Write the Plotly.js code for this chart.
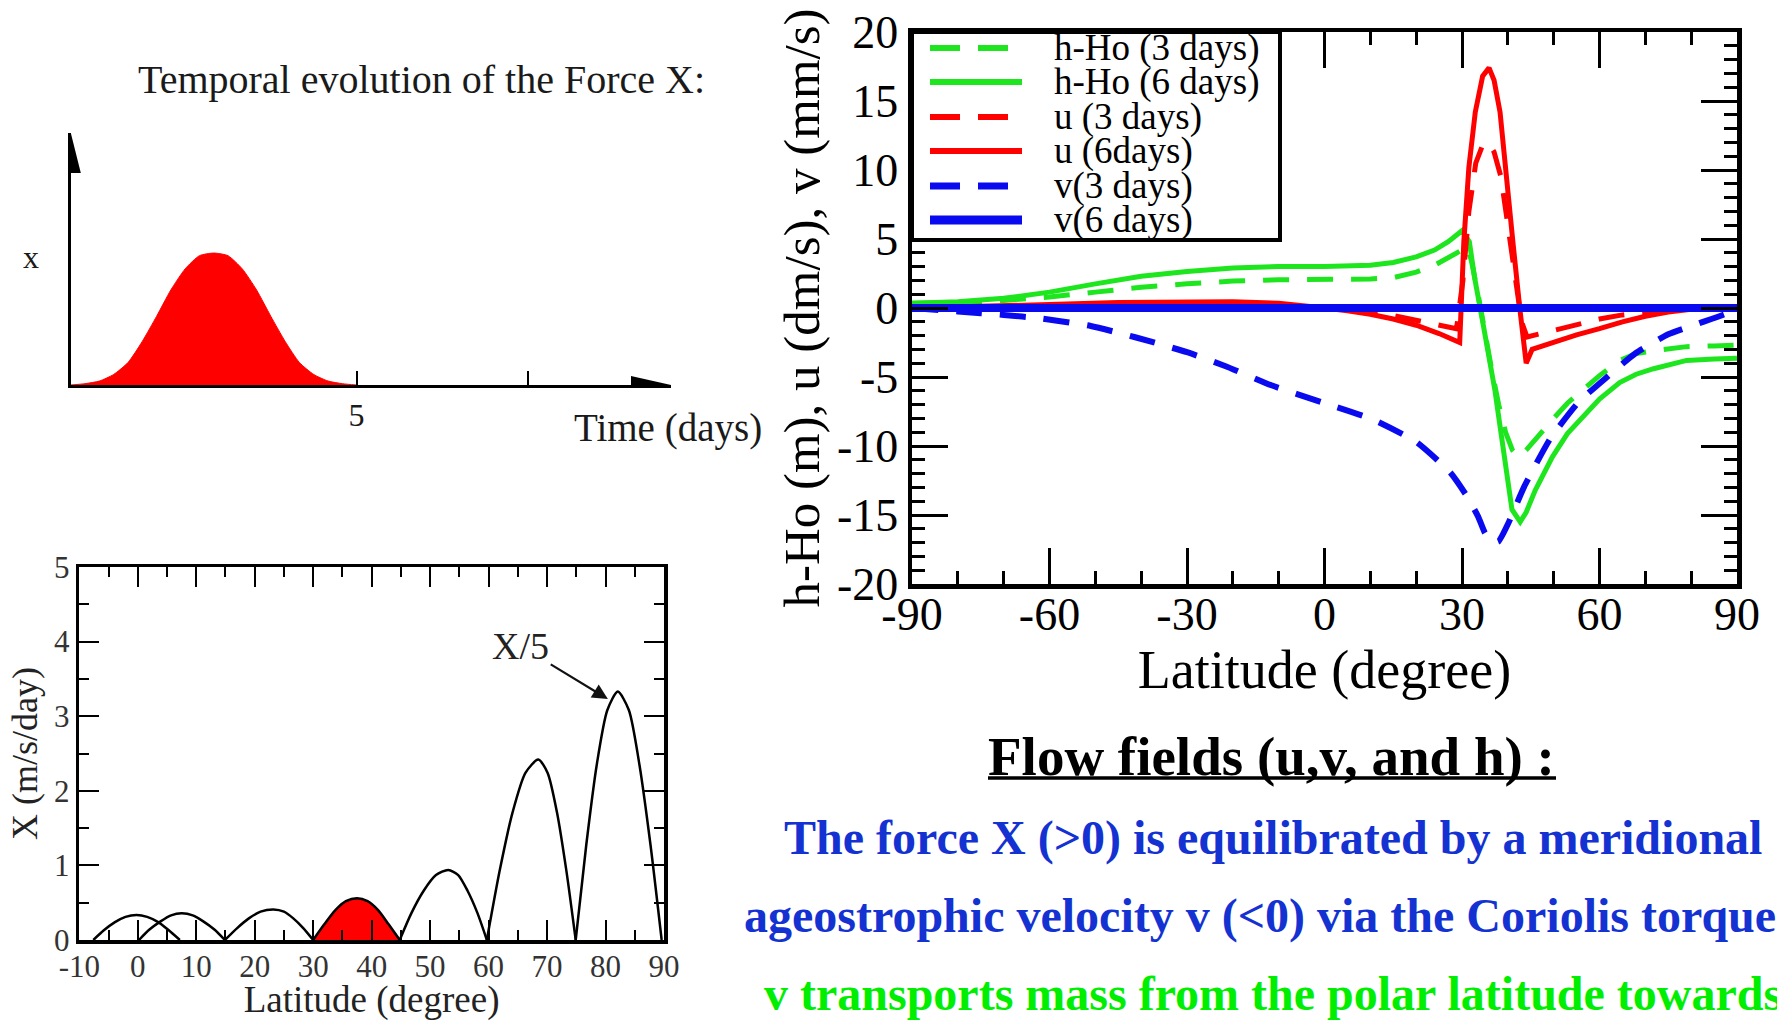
<!DOCTYPE html>
<html>
<head>
<meta charset="utf-8">
<script src="https://cdn.plot.ly/plotly-3.0.1.min.js"></script>
<style>
html,body{margin:0;padding:0;background:#fff;}
#chart{width:1777px;height:1021px;}
</style>
</head>
<body>
<div id="chart"></div>
<script>
// ---------- Panel A : temporal evolution of the force X ----------
const timeDays  = [0,0.25,0.5,0.75,1,1.25,1.5,1.75,2,2.25,2.5,2.75,3,3.25,3.5,3.75,4,4.25,4.5,4.75,5];
const forceTime = [0,0.01,0.03,0.08,0.17,0.33,0.52,0.72,0.88,0.98,1.0,0.98,0.88,0.72,0.52,0.33,0.17,0.08,0.03,0.01,0];
const timeTickVals = [5, 8];
const timeTickText = ['5', ''];

// ---------- Panel B : latitudinal profile of X (m/s/day) ----------
const humpA_lat = [-7.6,-5.8,-3.9,-2.1,-0.2,1.6,3.5,5.3,7.2];
const humpA_X   = [0,0.13,0.24,0.31,0.335,0.31,0.24,0.13,0];
const humpB_lat = [0.2,2.0,3.9,5.7,7.5,9.4,11.2,13.1,14.9];
const humpB_X   = [0,0.14,0.25,0.33,0.357,0.33,0.25,0.14,0];
const humpC_lat = [14.9,17,19,21,23.2,25,26.6,28.3,30.0];
const humpC_X   = [0,0.16,0.29,0.38,0.41,0.38,0.29,0.16,0];
const humpD_lat = [30,31.9,33.8,35.6,37.5,39.3,41.1,42.9,44.8];
const humpD_X   = [0,0.21,0.40,0.52,0.56,0.52,0.40,0.21,0];
const humpE_lat = [44.8,46.8,48.9,51,53.1,54.8,56.4,58.1,59.7];
const humpE_X   = [0,0.36,0.66,0.87,0.94,0.87,0.66,0.36,0];
const humpF_lat = [59.7,61.9,64.1,66.3,68.5,70.1,71.7,73.3,74.9];
const humpF_X   = [0,0.93,1.71,2.24,2.42,2.24,1.71,0.93,0];
const humpG_lat = [74.9,76.7,78.5,80.3,82.1,84.0,85.8,87.7,89.6];
const humpG_X   = [0,1.27,2.35,3.08,3.33,3.08,2.35,1.27,0];
const latTicksB = [-10,0,10,20,30,40,50,60,70,80,90];
const xTicksB   = [0,1,2,3,4,5];
const arrowTipB  = {lat: 80.4, X: 3.23};
const arrowTextB = {lat: 65.5, X: 3.94, text: 'X/5'};

// ---------- Panel C : flow fields ----------
const h3_lat = [-90,-80,-70,-60,-50,-40,-30,-20,-10,0,10,15,20,24,27.6,30,31,32,33.5,35,36.5,38,39.5,41,42.4,44,46,49.7,53,57,60,64.4,68,71.8,79,85,90];
const h3_val = [0.35,0.4,0.55,0.8,1.15,1.5,1.75,1.95,2.05,2.05,2.1,2.2,2.6,3.1,3.7,4.2,4.5,3.5,1.0,-2.0,-4.5,-7.0,-9.0,-10.3,-10.8,-10.3,-9.5,-8.1,-6.9,-5.7,-4.9,-3.8,-3.3,-3.1,-2.8,-2.75,-2.7];
const h6_lat = [-90,-80,-70,-60,-50,-40,-30,-20,-10,0,10,15,20,24,27,29,30,31.6,32.8,34.3,35.7,37.2,38.7,39.8,40.9,42.7,44,46,49.7,53,57,60,64.4,68,71.8,75,79,85,90];
const h6_val = [0.35,0.45,0.7,1.15,1.75,2.3,2.65,2.9,3.0,3.0,3.1,3.3,3.7,4.2,4.8,5.3,5.6,4.8,2.1,-0.6,-3.3,-6.0,-9.5,-12.2,-14.6,-15.5,-14.8,-13.2,-10.8,-9.1,-7.6,-6.6,-5.4,-4.8,-4.4,-4.1,-3.8,-3.7,-3.65];
const u3_lat = [-90,-75,-60,-45,-30,-20,-10,-5,0,5,10,15,20,25,27,28.8,30.2,31.5,33,34.5,35.7,37,38.5,40,41.5,43,44.2,46,50,55,60,65,70,75,80,90];
const u3_val = [0,0.05,0.15,0.25,0.3,0.3,0.25,0.12,0,-0.12,-0.3,-0.55,-0.9,-1.25,-1.4,-1.5,2.0,7.0,10.5,11.8,12.0,11.3,9.5,6.0,2.0,-1.0,-2.1,-1.95,-1.65,-1.2,-0.8,-0.5,-0.3,-0.15,-0.05,0];
const u6_lat = [-90,-75,-60,-45,-30,-20,-10,-5,0,5,10,15,20,25,28,29.5,30.4,31.5,32.9,34.5,35.9,37,38.3,39.4,41.1,42.6,44,45.3,47,50,55,60,65,70,75,80,85,90];
const u6_val = [0,0.1,0.25,0.4,0.45,0.45,0.35,0.2,0,-0.2,-0.45,-0.8,-1.25,-1.85,-2.25,-2.5,4.8,10.2,14.2,16.8,17.4,16.5,14.2,10.2,4.8,0,-4.0,-3.0,-2.8,-2.45,-1.95,-1.5,-1.0,-0.6,-0.3,-0.1,-0.03,0];
const v3_lat = [-90,-80,-70,-62,-51,-41.5,-30,-21.7,-11.6,0,10.7,20,27.4,31,33.5,35,36.5,38,40.1,43.5,49.2,55.5,62,67.8,75,81.8,88.5,90];
const v3_val = [0,-0.25,-0.5,-0.75,-1.3,-2.1,-3.2,-4.2,-5.6,-6.9,-8.1,-9.7,-11.9,-13.6,-15.1,-16.3,-17.0,-16.9,-15.6,-13.0,-9.5,-6.8,-4.9,-3.3,-1.9,-1.1,-0.3,0];
const v6_lat = [-90,-60,-30,0,30,60,90];
const v6_val = [0,0,0,0,0,0,0];
const seriesNames = ['h-Ho (3 days)','h-Ho (6 days)','u (3 days)','u (6days)','v(3 days)','v(6 days)'];
const latTicksC = [-90,-60,-30,0,30,60,90];
const valTicksC = [-20,-15,-10,-5,0,5,10,15,20];

// ---------- Text block ----------
const textTitle = 'Flow fields (u,v, and h) :';
const textLines = [
  'The force X (>0) is equilibrated by a meridional',
  'ageostrophic velocity v (<0) via the Coriolis torque',
  'v transports mass from the polar latitude towards'
];

// ================= layout helpers =================
const W = 1777, H = 1021;
const px = v => v / W;
const py = v => 1 - v / H;
const SERIF = '"Liberation Serif", "Times New Roman", Times, serif';
const GREEN = '#1ee61e', RED = '#ff0000', BLUE = '#0a0af0';
const DASH = '26px,18px';

const traces = [];
// Panel A
traces.push({x: timeDays, y: forceTime, xaxis: 'x', yaxis: 'y', type: 'scatter', mode: 'lines',
  line: {color: RED, width: 1, shape: 'spline', smoothing: 0.6}, fill: 'tozeroy', fillcolor: RED, showlegend: false});
// Panel B
const humps = [[humpA_lat, humpA_X], [humpB_lat, humpB_X], [humpC_lat, humpC_X], [humpD_lat, humpD_X],
               [humpE_lat, humpE_X], [humpF_lat, humpF_X], [humpG_lat, humpG_X]];
humps.forEach((h, i) => {
  const t = {x: h[0], y: h[1], xaxis: 'x2', yaxis: 'y2', type: 'scatter', mode: 'lines',
    line: {color: '#000', width: 2.5, shape: 'spline', smoothing: 0.7}, showlegend: false};
  if (i === 3) { t.fill = 'tozeroy'; t.fillcolor = RED; }
  traces.push(t);
});
// Panel C
const panelC = [
  [h3_lat, h3_val, GREEN, DASH, 5, 'linear'],
  [h6_lat, h6_val, GREEN, 'solid', 5, 'linear'],
  [u3_lat, u3_val, RED, DASH, 5, 'linear'],
  [u6_lat, u6_val, RED, 'solid', 5, 'linear'],
  [v3_lat, v3_val, BLUE, DASH, 6, 'spline'],
  [v6_lat, v6_val, BLUE, 'solid', 8, 'linear']
];
panelC.forEach((s, i) => {
  traces.push({x: s[0], y: s[1], xaxis: 'x3', yaxis: 'y3', type: 'scatter', mode: 'lines', name: seriesNames[i],
    line: {color: s[2], dash: s[3], width: s[4], shape: s[5], smoothing: 0.5}, showlegend: false});
});

const shapes = [];
const annotations = [];
const txt = (x, y, text, size, color, extra) => Object.assign({xref: 'paper', yref: 'paper', x: px(x), y: py(y),
  xanchor: 'center', yanchor: 'middle', text: text, showarrow: false,
  font: {family: SERIF, size: size, color: color}}, extra || {});

// Panel A decorations: arrow heads
shapes.push({type: 'path', xref: 'x', yref: 'y', xsizemode: 'pixel', ysizemode: 'pixel', xanchor: 10.5, yanchor: 0,
  path: 'M0,0 L-40,9 L-40,-9 Z', fillcolor: '#000', line: {width: 0}});
shapes.push({type: 'path', xref: 'x', yref: 'y', xsizemode: 'pixel', ysizemode: 'pixel', xanchor: 0, yanchor: 1.91,
  path: 'M0,0 L-10,-40 L10,-40 Z', fillcolor: '#000', line: {width: 0}});
annotations.push(txt(421, 80, 'Temporal evolution of the Force X:', 40, '#1a1a1a'));
annotations.push(txt(31, 257, 'x', 32, '#1a1a1a'));
annotations.push(txt(668, 428, 'Time (days)', 39, '#1a1a1a'));

// Panel B annotation
annotations.push({xref: 'x2', yref: 'y2', x: arrowTipB.lat, y: arrowTipB.X, axref: 'x2', ayref: 'y2',
  ax: arrowTextB.lat, ay: arrowTextB.X, text: arrowTextB.text, showarrow: true, arrowhead: 2, arrowsize: 1.4,
  arrowwidth: 2.2, arrowcolor: '#111', font: {family: SERIF, size: 38, color: '#222'}});

// Panel C legend (manual box)
const legTop = 32, legBottom = 240, legLeft = 912, legRight = 1280;
shapes.push({type: 'rect', xref: 'paper', yref: 'paper', x0: px(legLeft), x1: px(legRight), y0: py(legBottom), y1: py(legTop),
  line: {color: '#000', width: 4}, fillcolor: '#fff', layer: 'above'});
const legRows = [48, 82, 117, 151, 186, 220];
panelC.forEach((s, i) => {
  shapes.push({type: 'line', xref: 'paper', yref: 'paper', x0: px(930), x1: px(1022), y0: py(legRows[i]), y1: py(legRows[i]),
    line: {color: s[2], dash: s[3] === 'solid' ? 'solid' : '30px,18px', width: s[4] + 1}, layer: 'above'});
  annotations.push(txt(1052, legRows[i], seriesNames[i], 37, '#000', {xanchor: 'left'}));
});

// Text block
annotations.push(txt(1271, 756, '<b>' + textTitle + '</b>', 55, '#000'));
shapes.push({type: 'line', xref: 'paper', yref: 'paper', x0: px(988), x1: px(1556), y0: py(778), y1: py(778),
  line: {color: '#000', width: 3.5}});
const lineLeft = [782, 742, 762], lineY = [838, 916, 993], lineColor = ['#1432d2', '#1432d2', '#00ee00'];
textLines.forEach((t, i) => {
  annotations.push(txt(lineLeft[i], lineY[i], '<b>' + t + '</b>', 48, lineColor[i], {xanchor: 'left'}));
});

const axCommon = {showgrid: false, zeroline: false, fixedrange: true};
const layout = {
  width: W, height: H, margin: {l: 0, r: 0, t: 0, b: 0}, paper_bgcolor: '#fff', plot_bgcolor: 'rgba(0,0,0,0)',
  showlegend: false, font: {family: SERIF, color: '#000'},
  // Panel A
  xaxis: Object.assign({}, axCommon, {domain: [px(70.8), px(671)], range: [0, 10.5], anchor: 'y',
    showline: true, linewidth: 2.5, linecolor: '#000', tickmode: 'array', tickvals: timeTickVals, ticktext: timeTickText,
    ticks: 'inside', ticklen: 14, tickwidth: 2, tickcolor: '#000', ticklabelstandoff: 0,
    tickfont: {family: SERIF, size: 32, color: '#1a1a1a'}}),
  yaxis: Object.assign({}, axCommon, {domain: [py(385), py(133)], range: [0, 1.91], anchor: 'x',
    showline: true, linewidth: 2.5, linecolor: '#000', showticklabels: false, ticks: ''}),
  // Panel B
  xaxis2: Object.assign({}, axCommon, {domain: [px(79.3), px(664)], range: [-10, 90], anchor: 'y2',
    showline: true, linewidth: 3.5, linecolor: '#000', mirror: 'allticks', ticks: 'inside', ticklen: 20, tickwidth: 2,
    tickcolor: '#000', tickmode: 'array', tickvals: latTicksB, ticktext: latTicksB.map(String),
    minor: {tickmode: 'linear', tick0: 0, dtick: 5, ticklen: 10, tickwidth: 2, ticks: 'inside', tickcolor: '#000'},
    tickfont: {family: SERIF, size: 31, color: '#333'}, ticklabelstandoff: -4,
    title: {text: 'Latitude (degree)', font: {family: SERIF, size: 37, color: '#222'}, standoff: 4}}),
  yaxis2: Object.assign({}, axCommon, {domain: [py(940), py(567)], range: [0, 5], anchor: 'x2',
    showline: true, linewidth: 3.5, linecolor: '#000', mirror: 'allticks', ticks: 'inside', ticklen: 20, tickwidth: 2,
    tickcolor: '#000', tickmode: 'array', tickvals: xTicksB, ticktext: xTicksB.map(String),
    minor: {tickmode: 'linear', tick0: 0, dtick: 0.5, ticklen: 10, tickwidth: 2, ticks: 'inside', tickcolor: '#000'},
    tickfont: {family: SERIF, size: 31, color: '#333'},
    title: {text: 'X (m/s/day)', font: {family: SERIF, size: 36, color: '#222'}, standoff: 6}}),
  // Panel C
  xaxis3: Object.assign({}, axCommon, {domain: [px(912), px(1737)], range: [-90, 90], anchor: 'y3',
    showline: true, linewidth: 4.5, linecolor: '#000', mirror: 'allticks', ticks: 'inside', ticklen: 36, tickwidth: 3,
    tickcolor: '#000', tickmode: 'array', tickvals: latTicksC, ticktext: latTicksC.map(String),
    minor: {tickmode: 'linear', tick0: 0, dtick: 10, ticklen: 13, tickwidth: 3, ticks: 'inside', tickcolor: '#000'},
    tickfont: {family: SERIF, size: 46, color: '#000'}, ticklabelstandoff: -14,
    title: {text: 'Latitude (degree)', font: {family: SERIF, size: 54, color: '#000'}, standoff: 0}}),
  yaxis3: Object.assign({}, axCommon, {domain: [py(584), py(32)], range: [-20, 20], anchor: 'x3',
    showline: true, linewidth: 4.5, linecolor: '#000', mirror: 'allticks', ticks: 'inside', ticklen: 36, tickwidth: 3,
    tickcolor: '#000', tickmode: 'array', tickvals: valTicksC, ticktext: valTicksC.map(String),
    minor: {tickmode: 'linear', tick0: 0, dtick: 1, ticklen: 13, tickwidth: 3, ticks: 'inside', tickcolor: '#000'},
    tickfont: {family: SERIF, size: 46, color: '#000'},
    title: {text: 'h-Ho (m), u (dm/s), v (mm/s)', font: {family: SERIF, size: 51, color: '#000'}, standoff: 2}}),
  shapes: shapes,
  annotations: annotations
};

Plotly.newPlot('chart', traces, layout, {staticPlot: true, displayModeBar: false});
</script>
</body>
</html>
